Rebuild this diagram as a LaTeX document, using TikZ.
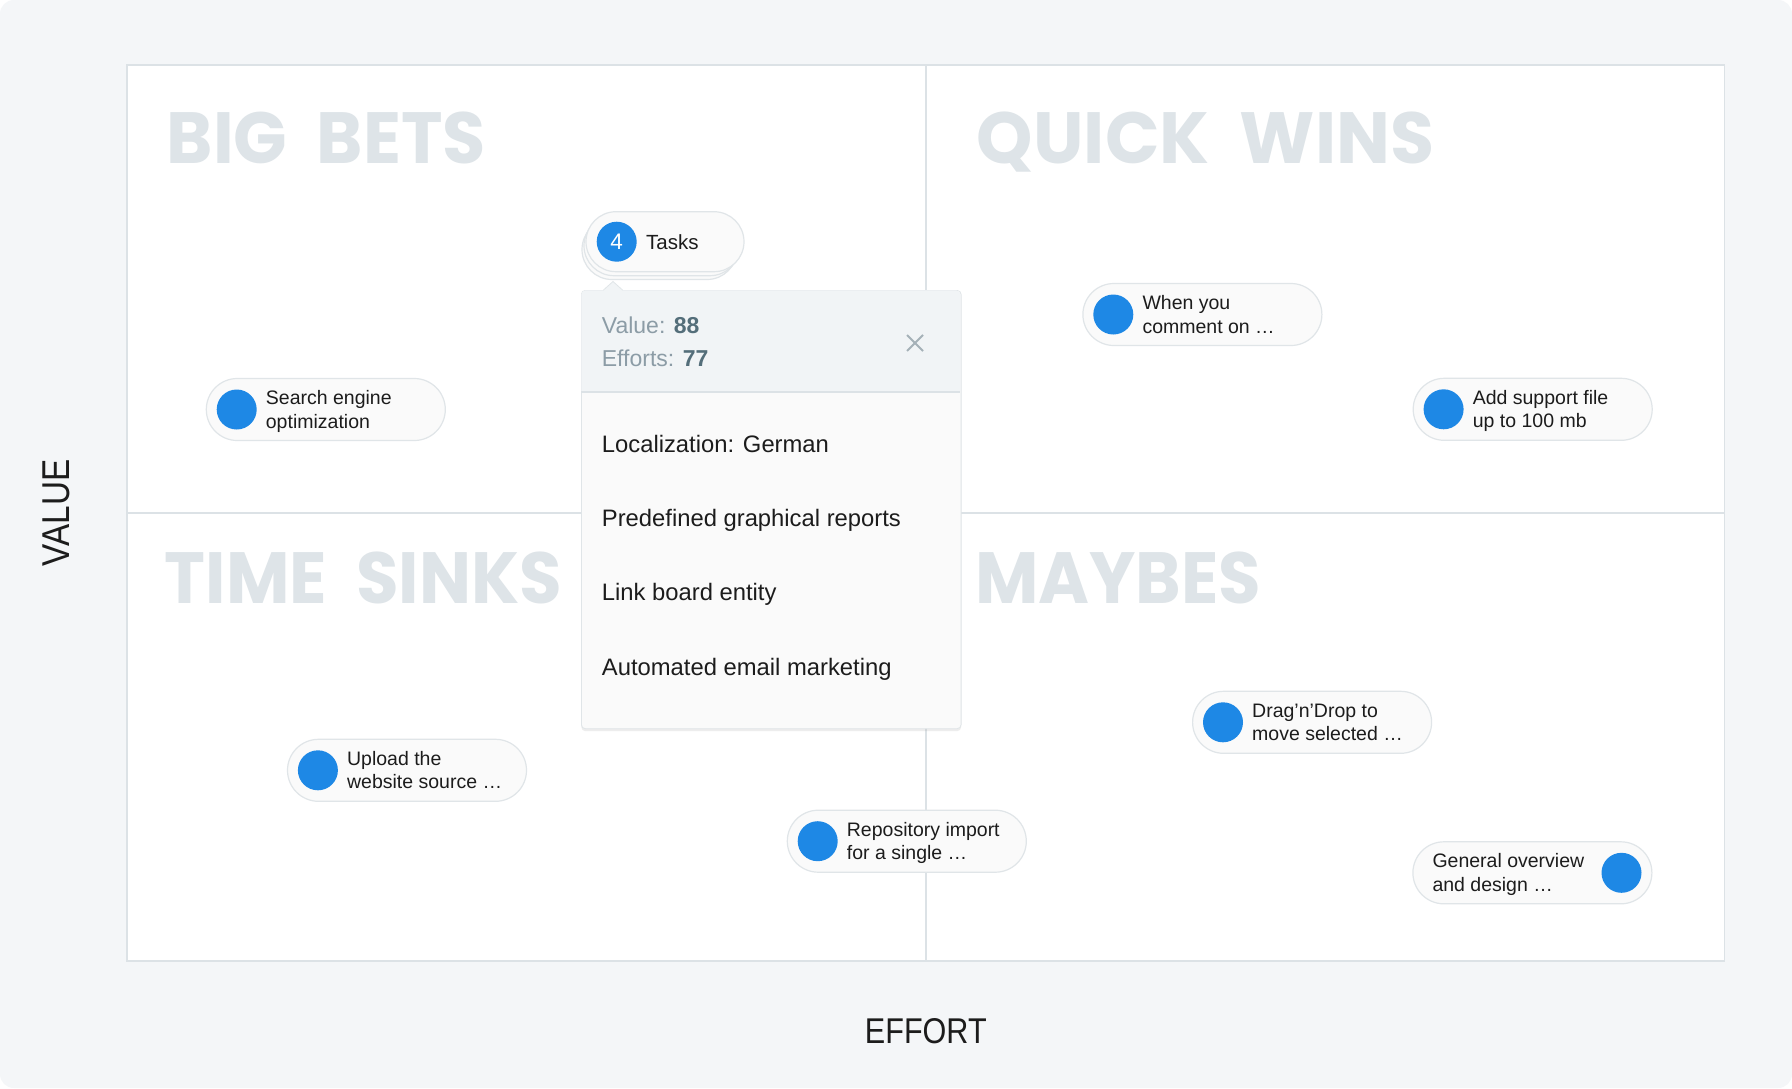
\documentclass[tikz,border=0pt]{standalone}
\usepackage{fontspec}
\setmainfont{Liberation Sans}
\newfontfamily\titlefont{Poppins}
\usetikzlibrary{shadows}
\definecolor{bgc}{HTML}{F4F6F8}
\definecolor{gridc}{HTML}{DCE2E6}
\definecolor{titlec}{HTML}{DEE4E8}
\definecolor{pillfill}{HTML}{FAFAFA}
\definecolor{pilldraw}{HTML}{E0E5E8}
\definecolor{dotblue}{HTML}{1E88E5}
\definecolor{inkc}{HTML}{1C1C1C}
\definecolor{hdrfill}{HTML}{F1F4F6}
\definecolor{hdrgray}{HTML}{8C9CA6}
\definecolor{hdrdark}{HTML}{546E7A}
\definecolor{closec}{HTML}{A5B1B8}
\newcommand\qtitle[3]{\resizebox{#1}{51.6pt}{\titlefont\bfseries #2\hspace{0.42em}#3}}
\newcommand\pillL[5]{%
  \node[pill, anchor=west] (#1) at (#2,#3) {};
  \node[dot] (#1d) at ([shift={(31,0)}]#1.west) {};
  \node[ptext] (#1a) at ([shift={(60,-5)}]#1.west) {#4};
  \node[ptext] (#1b) at ([shift={(60,18.5)}]#1.west) {#5};
}
\newcommand\pillR[5]{%
  \node[pill, anchor=west] (#1) at (#2,#3) {};
  \node[dot] (#1d) at ([shift={(-31,0)}]#1.east) {};
  \node[ptext] (#1a) at ([shift={(20,-5)}]#1.west) {#4};
  \node[ptext] (#1b) at ([shift={(20,18.5)}]#1.west) {#5};
}
\begin{document}
\begin{tikzpicture}[x=1pt,y=-1pt,
  gridline/.style={draw=gridc, line width=1.6pt},
  qt/.style={anchor=base west, inner sep=0pt, text=titlec},
  pill/.style={rectangle, rounded corners=31pt, minimum width=239pt, minimum height=62pt, fill=pillfill, draw=pilldraw, line width=1.2pt, inner sep=0pt},
  stackpill/.style={rectangle, rounded corners=30pt, minimum height=60pt, fill=pillfill, draw=pilldraw, line width=1.2pt, inner sep=0pt},
  dot/.style={circle, fill=dotblue, minimum size=40pt, inner sep=0pt},
  ptext/.style={anchor=base west, inner sep=0pt, text=inkc, font=\fontsize{19.5}{23}\selectfont},
  item/.style={anchor=base west, inner sep=0pt, text=inkc, font=\fontsize{23.8}{27}\selectfont},
  hdr/.style={anchor=base west, inner sep=0pt, font=\fontsize{23}{27}\selectfont},
  axislab/.style={inner sep=0pt, text=inkc}
]
\useasboundingbox (0,0) rectangle (1792,1088);
\fill[white] (0,0) rectangle (1792,1088);
\fill[bgc, rounded corners=14pt] (0,0) rectangle (1792,1088);

% chart frame and quadrant lines
\node[gridline, fill=white, rectangle, inner sep=0pt, minimum width=1597.7pt, minimum height=896pt] (chart) at (925.75,513) {};
\draw[gridline] (chart.north) -- (chart.south);
\draw[gridline] (chart.west) -- (chart.east);

% quadrant titles
\node[qt] (bigbets) at (166.7,163.3) {\qtitle{319pt}{BIG}{BETS}};
\node[qt] (quickwins) at (976.7,163.3) {\qtitle{457pt}{QUICK}{WINS}};
\node[qt] (timesinks) at (164.7,603.3) {\qtitle{397pt}{TIME}{SINKS}};
\node[qt] (maybes) at (975,603.3) {\resizebox{286pt}{51.6pt}{\titlefont\bfseries MAYBES}};

% axis labels
\node[axislab, rotate=90] (valuelab) at (56.7,513) {\resizebox{106.7pt}{26.7pt}{VALUE}};
\node[axislab] (effortlab) at (925.8,1030.8) {\resizebox{121.7pt}{25pt}{EFFORT}};

% pills
\pillL{seo}{205.7}{409.5}{Search engine}{optimization}
\pillL{comment}{1082.3}{314.5}{When you}{comment on …}
\pillL{support}{1412.6}{409.3}{Add support file}{up to 100 mb}
\pillL{upload}{286.9}{770.3}{Upload the}{website source …}
\pillL{repo}{786.7}{841.2}{Repository import}{for a single …}
\pillL{drag}{1192}{722.3}{Drag’n’Drop to}{move selected …}
\pillR{general}{1412.3}{872.8}{General overview}{and design …}

% tasks stack
\node[stackpill, minimum width=155pt] (t3) at (659.5,249.5) {};
\node[stackpill, minimum width=156pt] (t2) at (662,245.7) {};
\node[stackpill, minimum width=158pt] (tasks) at (665,241.7) {};
\node[dot, text=white, font=\fontsize{22.5}{25}\selectfont] (four) at (616.7,241.7) {4};
\node[ptext, font=\fontsize{20.5}{24}\selectfont] (taskslab) at (646,249.5) {Tasks};

% popup
\node[rectangle, rounded corners=4pt, fill=pillfill, draw=pilldraw, line width=0.8pt, minimum width=379.7pt, minimum height=438.3pt, anchor=north west, inner sep=0pt,
  drop shadow={opacity=0.14, shadow xshift=0pt, shadow yshift=-2.5pt}] (pop) at (581,290) {};
\fill[hdrfill] (581.4,391.7) [rounded corners=4pt]-- (581.4,290.4) -- (960.3,290.4) [sharp corners]-- (960.3,391.7) -- cycle;
\draw[gridc, line width=1.6pt] (581.4,391.7) -- (960.3,391.7);
\fill[hdrfill] (603.5,290.8) -- (613,281.5) -- (622.5,290.8) -- cycle;
\draw[pilldraw, line width=0.8pt] (603.5,290) -- (613,281.5) -- (622.5,290);
\node[hdr] (valtxt) at (601.7,333.3) {\color{hdrgray}Value: \color{hdrdark}\bfseries 88};
\node[hdr] (efftxt) at (601.7,366.7) {\color{hdrgray}Efforts: \color{hdrdark}\bfseries 77};
\coordinate (closex) at (915,343);
\draw[closec, line width=1.8pt] ([shift={(-8,-8)}]closex) -- ([shift={(8,8)}]closex);
\draw[closec, line width=1.8pt] ([shift={(-8,8)}]closex) -- ([shift={(8,-8)}]closex);
\node[item] (it1) at (601.7,452.3) {Localization: German};
\node[item] (it2) at (601.7,526.7) {Predefined graphical reports};
\node[item] (it3) at (601.7,600.7) {Link board entity};
\node[item] (it4) at (601.7,675) {Automated email marketing};
\end{tikzpicture}
\end{document}
